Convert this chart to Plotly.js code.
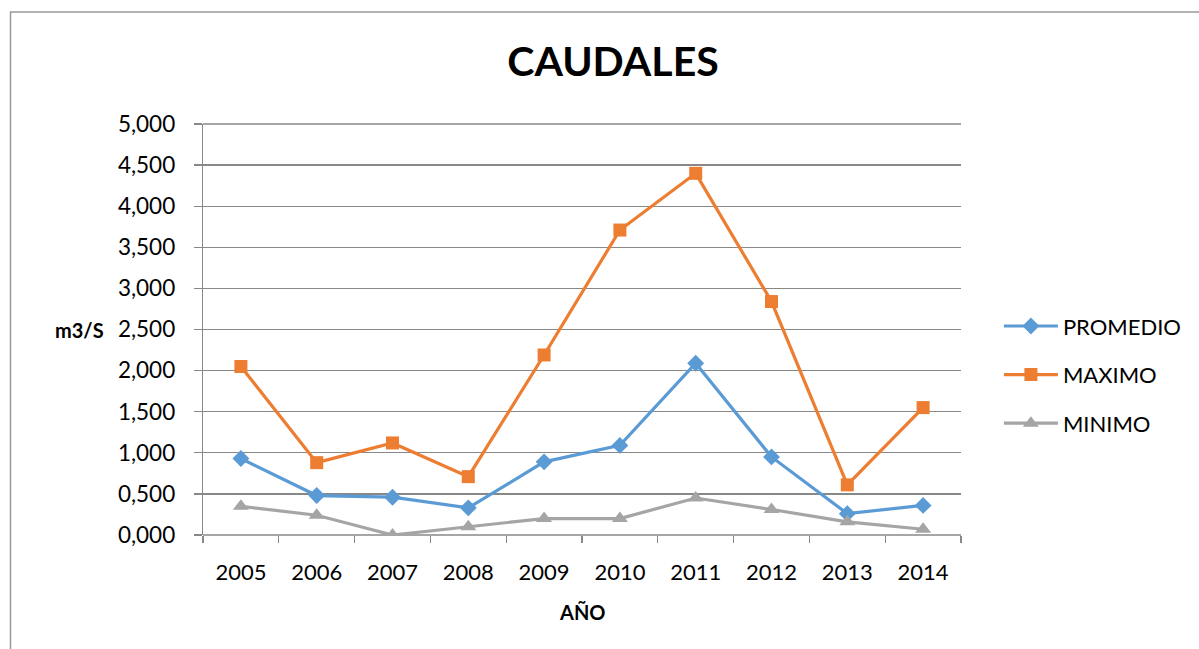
<!DOCTYPE html>
<html>
<head>
<meta charset="utf-8">
<script src="https://cdn.plot.ly/plotly-3.0.1.min.js"></script>
<style>
html,body{margin:0;padding:0;background:#fff;}
#chart{width:1199px;height:649px;}
</style>
</head>
<body>
<div id="chart"></div>
<script>
const years = ["2005","2006","2007","2008","2009","2010","2011","2012","2013","2014"];
const promedio = [0.93, 0.48, 0.46, 0.33, 0.89, 1.09, 2.09, 0.95, 0.26, 0.36];
const maximo   = [2.05, 0.88, 1.12, 0.71, 2.19, 3.71, 4.40, 2.84, 0.61, 1.55];
const minimo   = [0.35, 0.24, 0.00, 0.10, 0.20, 0.20, 0.45, 0.31, 0.16, 0.07];
const yTickVals = [0, 0.5, 1, 1.5, 2, 2.5, 3, 3.5, 4, 4.5, 5];
const yTickText = ["0,000","0,500","1,000","1,500","2,000","2,500","3,000","3,500","4,000","4,500","5,000"];

const FONT = "Lato, 'Open Sans', sans-serif";

const traces = [
  {name:"PROMEDIO", x:years, y:promedio, type:"scatter", mode:"lines+markers",
   line:{color:"#5B9BD5", width:3.2}, marker:{symbol:"diamond", size:13, color:"#5B9BD5"}, legendgroup:"a"},
  {name:"MAXIMO", x:years, y:maximo, type:"scatter", mode:"lines+markers",
   line:{color:"#ED7D31", width:3.2}, marker:{symbol:"square", size:13, color:"#ED7D31"}, legendgroup:"b"},
  {name:"MINIMO", x:years, y:minimo, type:"scatter", mode:"lines+markers",
   line:{color:"#A5A5A5", width:3.2}, marker:{symbol:"triangle-up", size:14, color:"#A5A5A5"}, legendgroup:"c"}
];

const layout = {
  width:1199, height:649,
  margin:{l:203, r:236, t:124, b:114},
  paper_bgcolor:"#fff", plot_bgcolor:"#fff",
  font:{family:FONT, size:22, color:"#000"},
  title:{text:"<b>CAUDALES</b>", font:{family:FONT, size:41, color:"#000"}, x:(613)/1199, xanchor:"center", y:1-62/649, yanchor:"middle"},
  showlegend:true,
  legend:{x:1.05, xanchor:"left", y:0.39, yanchor:"middle", font:{family:FONT, size:22, color:"#000"},
          itemwidth:54, tracegroupgap:17, traceorder:"grouped", bgcolor:"rgba(0,0,0,0)"},
  xaxis:{type:"category", range:[-0.5, 9.5], tickson:"boundaries", ticks:"outside", ticklen:7, tickcolor:"#888", tickwidth:1.3,
         showgrid:false, showline:false, zeroline:false, ticklabelstandoff:22,
         tickfont:{family:FONT, size:22, color:"#000"}, fixedrange:true},
  yaxis:{range:[0,5], tickvals:yTickVals, ticktext:yTickText, ticks:"outside", ticklen:8, tickcolor:"#888", tickwidth:1.3,
         showgrid:true, gridcolor:"#888", gridwidth:1.3, showline:true, linecolor:"#888", linewidth:1.3,
         zeroline:false, ticklabelstandoff:14, tickfont:{family:FONT, size:22.5, color:"#000"}, fixedrange:true},
  annotations:[
    {text:"<b>m3/S</b>", xref:"paper", yref:"y", x:(106-203)/760, y:2.5, xanchor:"right", yanchor:"middle",
     showarrow:false, font:{family:FONT, size:20, color:"#000"}},
    {text:"<b>AÑO</b>", xref:"paper", yref:"paper", x:(583-203)/760, y:(535-612)/411, xanchor:"center", yanchor:"middle",
     showarrow:false, font:{family:FONT, size:20, color:"#000"}}
  ],
  shapes:[
    {type:"line", xref:"paper", yref:"paper", x0:0, x1:1, y0:0, y1:0, line:{color:"#888", width:1.3}, layer:"below"},
    {type:"line", xref:"paper", yref:"paper", x0:0, x1:1, y0:1, y1:1, line:{color:"#888", width:1.3}, layer:"below"},
    {type:"rect", xref:"paper", yref:"paper", x0:(10-203)/760, x1:(1250-203)/760, y0:(535-700)/411, y1:(535-12)/411,
     line:{color:"#999", width:1.5}, fillcolor:"rgba(0,0,0,0)", layer:"below"}
  ]
};

Plotly.newPlot("chart", traces, layout, {displayModeBar:false, staticPlot:true});
</script>
</body>
</html>
